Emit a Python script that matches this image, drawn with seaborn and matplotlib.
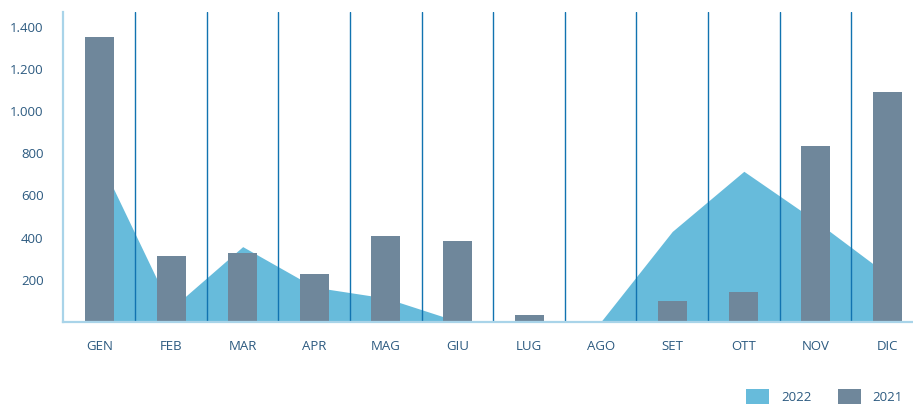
import matplotlib
matplotlib.use("Agg")
import matplotlib.pyplot as plt
from matplotlib.patches import Patch
from matplotlib.ticker import FuncFormatter
import seaborn as sns
import pandas as pd

months = ["GEN", "FEB", "MAR", "APR", "MAG", "GIU", "LUG", "AGO", "SET", "OTT", "NOV", "DIC"]
values_2021 = [1350, 314, 328, 229, 409, 385, 34, 0, 100, 143, 836, 1092]
values_2022 = [770, 62, 357, 165, 113, 3, 0, 0, 429, 714, 480, 226]
y_ticks = [200, 400, 600, 800, 1000, 1200, 1400]

COL_2021 = "#6f879b"
COL_2022 = "#67bbdb"
COL_SEP = "#1173b0"
COL_AXIS = "#a9d4e9"
COL_TEXT = "#2c5a80"

sns.set_theme(style="white")
plt.rcParams["font.family"] = ["Open Sans", "DejaVu Sans"]

fig = plt.figure(figsize=(9.13, 4.07), dpi=100)
ax = fig.add_axes([0.069, 0.209, 0.930, 0.762])

df = pd.DataFrame({"mese": months, "2021": values_2021, "2022": values_2022})
xpos = list(range(len(months)))

# 2022 as a filled area behind the bars
ax.fill_between(xpos, df["2022"], 0, color=COL_2022, linewidth=0, zorder=1)

# 2021 as bars
sns.barplot(data=df, x="mese", y="2021", color=COL_2021, width=0.405,
            saturation=1, linewidth=0, edgecolor="none", ax=ax, zorder=2)

# thin separators between months
for i in range(len(months) - 1):
    ax.axvline(i + 0.5, color=COL_SEP, linewidth=1.0, zorder=3)

ax.set_xlim(-0.51, 11.35)
ax.set_ylim(0, 1470)
ax.set_yticks(y_ticks)
ax.yaxis.set_major_formatter(FuncFormatter(lambda v, p: f"{int(v):,}".replace(",", ".")))
ax.set_xlabel("")
ax.set_ylabel("")

for s in ["top", "right"]:
    ax.spines[s].set_visible(False)
for s in ["left", "bottom"]:
    ax.spines[s].set_color(COL_AXIS)
    ax.spines[s].set_linewidth(1.6)
    ax.spines[s].set_zorder(4)

ax.tick_params(axis="both", length=0, labelsize=9.5, colors=COL_TEXT)
ax.tick_params(axis="x", pad=13)
ax.tick_params(axis="y", pad=14)

handles = [Patch(facecolor=COL_2022, edgecolor="none", label="2022"),
           Patch(facecolor=COL_2021, edgecolor="none", label="2021")]
fig.legend(handles=handles, loc="lower right", bbox_to_anchor=(1.002, -0.022),
           ncol=2, frameon=False, fontsize=9.5, labelcolor=COL_TEXT,
           handlelength=1.75, handleheight=1.3, handletextpad=0.9,
           columnspacing=2.0)

fig.savefig("out.png", dpi=100)
